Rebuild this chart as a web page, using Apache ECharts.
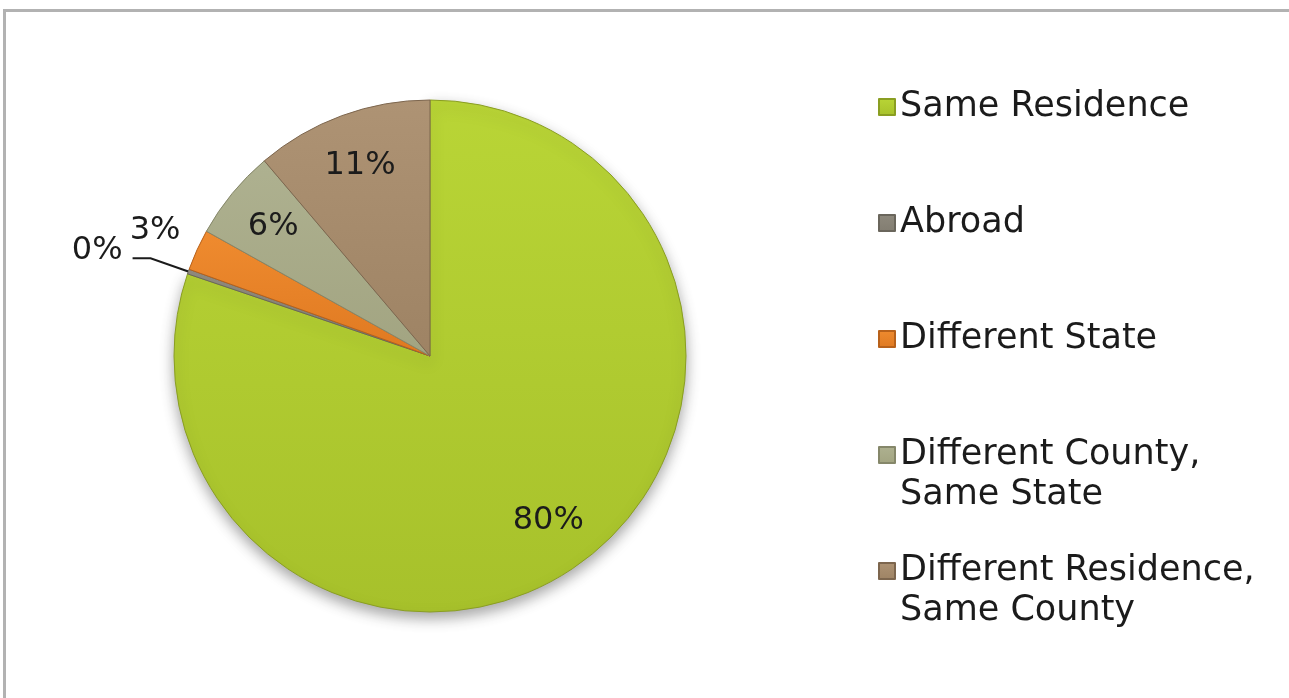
<!DOCTYPE html>
<html>
<head>
<meta charset="utf-8">
<script src="https://cdn.jsdelivr.net/npm/echarts@6/dist/echarts.min.js"></script>
<style>
  html, body { margin: 0; padding: 0; background: #ffffff; }
  #chart { position: absolute; left: 0; top: 0; width: 1289px; height: 698px; }
  #frame {
    position: absolute; left: 3px; top: 9px; width: 1300px; height: 720px;
    border-top: 3px solid #b2b2b2; border-left: 3px solid #b2b2b2;
    pointer-events: none;
  }
</style>
</head>
<body>
<div id="chart"></div>
<div id="frame"></div>
<script>
// Residence one year ago: share of population (%)
const categories = [
  'Same Residence',
  'Abroad',
  'Different State',
  'Different County,\nSame State',
  'Different Residence,\nSame County'
];
const shares = [80.2, 0.3, 2.6, 5.7, 11.2];

// fill colours (top, bottom) and edge colours for each slice
const fillTop    = ['#b9d536', '#8e897d', '#ef8b2f', '#aeb190', '#ae9374'];
const fillBottom = ['#a7c12b', '#827d71', '#df7921', '#a2a481', '#9e8364'];
const edgeColors = ['#8a9e22', '#6a665c', '#b8611a', '#85876a', '#7d664e'];

// which slices carry their label inside the pie, which one outside
const innerLabelIdx = [0, 3, 4];
const outerLabelIdx = [2];
const calloutIdx = 1;

const FONT = 'DejaVu Sans';
const pctText = p => Math.round(p.value) + '%';
const labelBase = {
  fontFamily: FONT, fontSize: 32, color: '#1b1b1b',
  textBorderWidth: 0, textShadowBlur: 0, formatter: pctText
};

const chart = echarts.init(document.getElementById('chart'), null, { renderer: 'canvas' });

const mainData = categories.map((name, i) => {
  const item = {
    name,
    value: shares[i],
    itemStyle: {
      color: new echarts.graphic.LinearGradient(0, 0, 0, 1, [
        { offset: 0, color: fillTop[i] },
        { offset: 1, color: fillBottom[i] }
      ]),
      borderColor: edgeColors[i],
      borderWidth: 1
    }
  };
  if (i === 0) {
    item.itemStyle.shadowBlur = 14;
    item.itemStyle.shadowOffsetY = 6;
    item.itemStyle.shadowColor = 'rgba(0,0,0,0.35)';
  }
  if (i === calloutIdx) {
    // a trailing blank line lifts the text a little above its leader line
    item.label = Object.assign({}, labelBase, {
      show: true, position: 'outside', distanceToLabelLine: 10,
      lineHeight: 16,
      formatter: p => pctText(p) + '\n '
    });
    item.labelLine = {
      show: true, length: 40, length2: 18, smooth: false,
      lineStyle: { color: '#1b1b1b', width: 2 }
    };
  }
  return item;
});

// transparent rings used only to place the percentage labels
function labelRing(indices) {
  return categories.map((name, i) => ({
    name,
    value: shares[i],
    label: { show: indices.includes(i) }
  }));
}

const ringCommon = {
  type: 'pie',
  center: [430, 356],
  startAngle: 90,
  clockwise: true,
  silent: true,
  legendHoverLink: false,
  avoidLabelOverlap: false,
  itemStyle: { color: 'rgba(0,0,0,0)', borderWidth: 0 },
  label: Object.assign({ position: 'inside' }, labelBase),
  labelLine: { show: false },
  emphasis: { disabled: true }
};

// every legend entry is three text lines tall, its marker beside the first name line
const legendText = name => name.indexOf('\n') >= 0 ? ' \n' + name : ' \n' + name + '\n ';

chart.setOption({
  animation: false,
  backgroundColor: '#ffffff',
  legend: {
    orient: 'vertical',
    left: 873,
    top: 42,
    itemWidth: 16,
    itemHeight: 16,
    itemGap: -4,
    selectedMode: false,
    icon: 'rect',
    data: categories,
    formatter: legendText,
    textStyle: {
      fontFamily: FONT, fontSize: 35, lineHeight: 40, color: '#1b1b1b'
    }
  },
  series: [
    {
      type: 'pie',
      name: 'Residence',
      center: [430, 356],
      radius: [0, 256],
      startAngle: 90,
      clockwise: true,
      avoidLabelOverlap: false,
      label: { show: false },
      labelLine: { show: false },
      emphasis: { disabled: true },
      data: mainData
    },
    Object.assign({}, ringCommon, { radius: [144, 256], data: labelRing(innerLabelIdx) }),
    Object.assign({}, ringCommon, { radius: [280, 318], data: labelRing(outerLabelIdx) })
  ]
});
</script>
</body>
</html>
